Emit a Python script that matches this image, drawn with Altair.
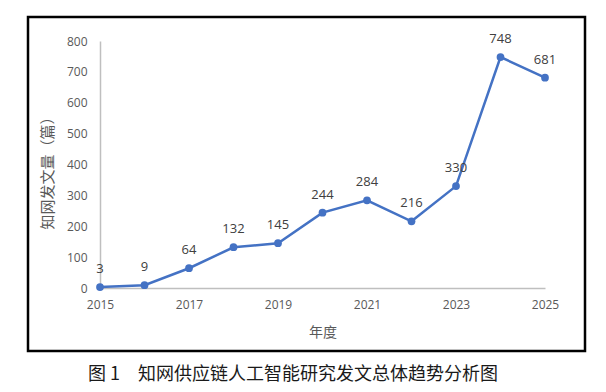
import altair as alt
import pandas as pd

years = [2015, 2016, 2017, 2018, 2019, 2020, 2021, 2022, 2023, 2024, 2025]
counts = [3, 9, 64, 132, 145, 244, 284, 216, 330, 748, 681]
x_ticks = [2015, 2017, 2019, 2021, 2023, 2025]
y_ticks = [0, 100, 200, 300, 400, 500, 600, 700, 800]
x_title = "年度"
y_title = "知网发文量（篇）"
caption = "图 1　知网供应链人工智能研究发文总体趋势分析图"

df = pd.DataFrame({"year": years, "count": counts})

BLUE = "#4472C4"
GREY = "#595959"

x = alt.X("year:Q",
          scale=alt.Scale(domain=[2015, 2025], nice=False, zero=False),
          axis=alt.Axis(values=x_ticks, format="d", title=x_title, grid=False,
                        ticks=False, domainColor="#BFBFBF", domainWidth=1.5,
                        labelColor=GREY, labelFontSize=12, labelFont="Open Sans",
                        labelFlush=False, labelBound=False, labelOverlap=False,
                        labelPadding=11, titleFont="Noto Sans CJK SC", titleFontSize=14,
                        titleColor=GREY, titleFontWeight="normal",
                        titleY=44, titleBaseline="middle"))
y = alt.Y("count:Q",
          scale=alt.Scale(domain=[0, 800], nice=False),
          axis=alt.Axis(values=y_ticks, title=y_title, grid=False, ticks=False,
                        domainColor="#BFBFBF", domainWidth=1.5,
                        labelColor=GREY, labelFontSize=12, labelFont="Open Sans",
                        labelFlush=False, labelOverlap=False,
                        labelPadding=13, titleFont="Noto Sans CJK SC", titleFontSize=15,
                        titleColor=GREY, titleFontWeight="normal",
                        titleX=-53, titleY=128, titleAngle=-90,
                        titleAlign="center", titleBaseline="middle"))

base = alt.Chart(df)
line = base.mark_line(color=BLUE, strokeWidth=2.5).encode(x=x, y=y)
pts = base.mark_point(filled=True, color=BLUE, size=60, opacity=1).encode(x=x, y=y)
labels = base.mark_text(dy=-18, fontSize=13, color="#404040", font="Open Sans",
                        baseline="middle").encode(x=x, y=y, text="count:Q")

deco = alt.Chart(alt.Data(values=[{"t": caption}]))
border = deco.mark_rect(filled=False, stroke="black", strokeWidth=2.5).encode(
    x=alt.value(-72), x2=alt.value(485), y=alt.value(-24), y2=alt.value(310))
cap = deco.mark_text(align="left", baseline="middle", fontSize=18,
                     font="Noto Sans CJK SC", color="#1a1a1a").encode(
    x=alt.value(-12), y=alt.value(334), text="t:N")

chart = alt.layer(border, line, pts, labels, cap).properties(
    width=445, height=247,
    autosize=alt.AutoSizeParams(type="none"),
    padding={"left": 92, "top": 33, "right": 50, "bottom": 100},
).configure_view(stroke=None)

chart.save("out.html", embed_options={"renderer": "svg", "actions": False})
